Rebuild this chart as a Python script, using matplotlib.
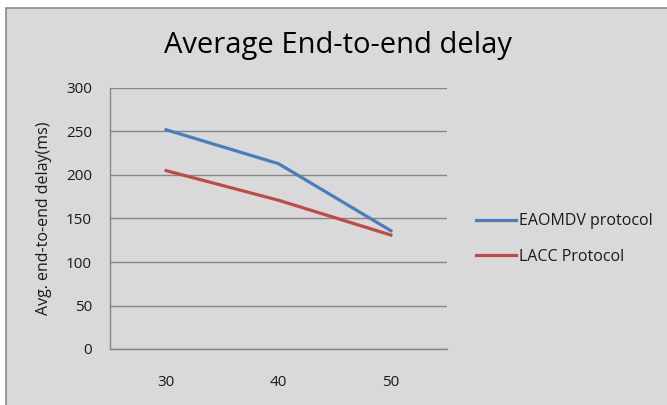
import matplotlib.pyplot as plt
from matplotlib.patches import Rectangle

nodes = ['30', '40', '50']
eaomdv = [252, 213, 136]
lacc = [205, 171, 131]
series_names = ['EAOMDV protocol', 'LACC Protocol']

plt.rcParams['font.family'] = ['Open Sans', 'DejaVu Sans']

fig = plt.figure(figsize=(6.67, 4.05), dpi=100, facecolor='white')
# chart area background, border only shows on top and left
bg = Rectangle((6 / 667, -0.1), 1.1, 1.1 - 8 / 405, transform=fig.transFigure,
               facecolor='#d9d9d9', edgecolor='#8c8c8c', linewidth=1.2, zorder=-5)
fig.patches.append(bg)

ax = fig.add_axes([110 / 667, 56 / 405, 337 / 667, 261 / 405])
ax.set_facecolor('#d9d9d9')

x = range(len(nodes))
ax.plot(x, eaomdv, color='#4a7ebb', linewidth=2.3, label=series_names[0])
ax.plot(x, lacc, color='#be4b48', linewidth=2.3, label=series_names[1])

ax.set_xlim(-0.5, 2.5)
ax.set_ylim(0, 300)
ax.set_yticks(range(0, 301, 50))
ax.set_xticks(list(x))
ax.set_xticklabels(nodes)
ax.tick_params(axis='both', length=0, labelsize=11, colors='#1a1a1a')
ax.tick_params(axis='y', pad=13)
ax.tick_params(axis='x', pad=19)
ax.grid(axis='y', color='#868686', linewidth=1)
ax.set_axisbelow(True)
for s in ['top', 'right']:
    ax.spines[s].set_visible(False)
for s in ['left', 'bottom']:
    ax.spines[s].set_color('#868686')
    ax.spines[s].set_linewidth(1)

ax.set_ylabel('Avg. end-to-end delay(ms)', fontsize=11.5, color='#1a1a1a', labelpad=10)
fig.text(338 / 667, 1 - 45 / 405, 'Average End-to-end delay', fontsize=21,
         ha='center', va='center', color='black')

leg = fig.legend(loc='center left', bbox_to_anchor=(462 / 667, 1 - 239 / 405),
                 frameon=False, fontsize=11.5, handlelength=2.5, handletextpad=0.15,
                 labelspacing=1.2)
for t in leg.get_texts():
    t.set_color('#1a1a1a')

fig.savefig('out.png', dpi=100, facecolor='white')
